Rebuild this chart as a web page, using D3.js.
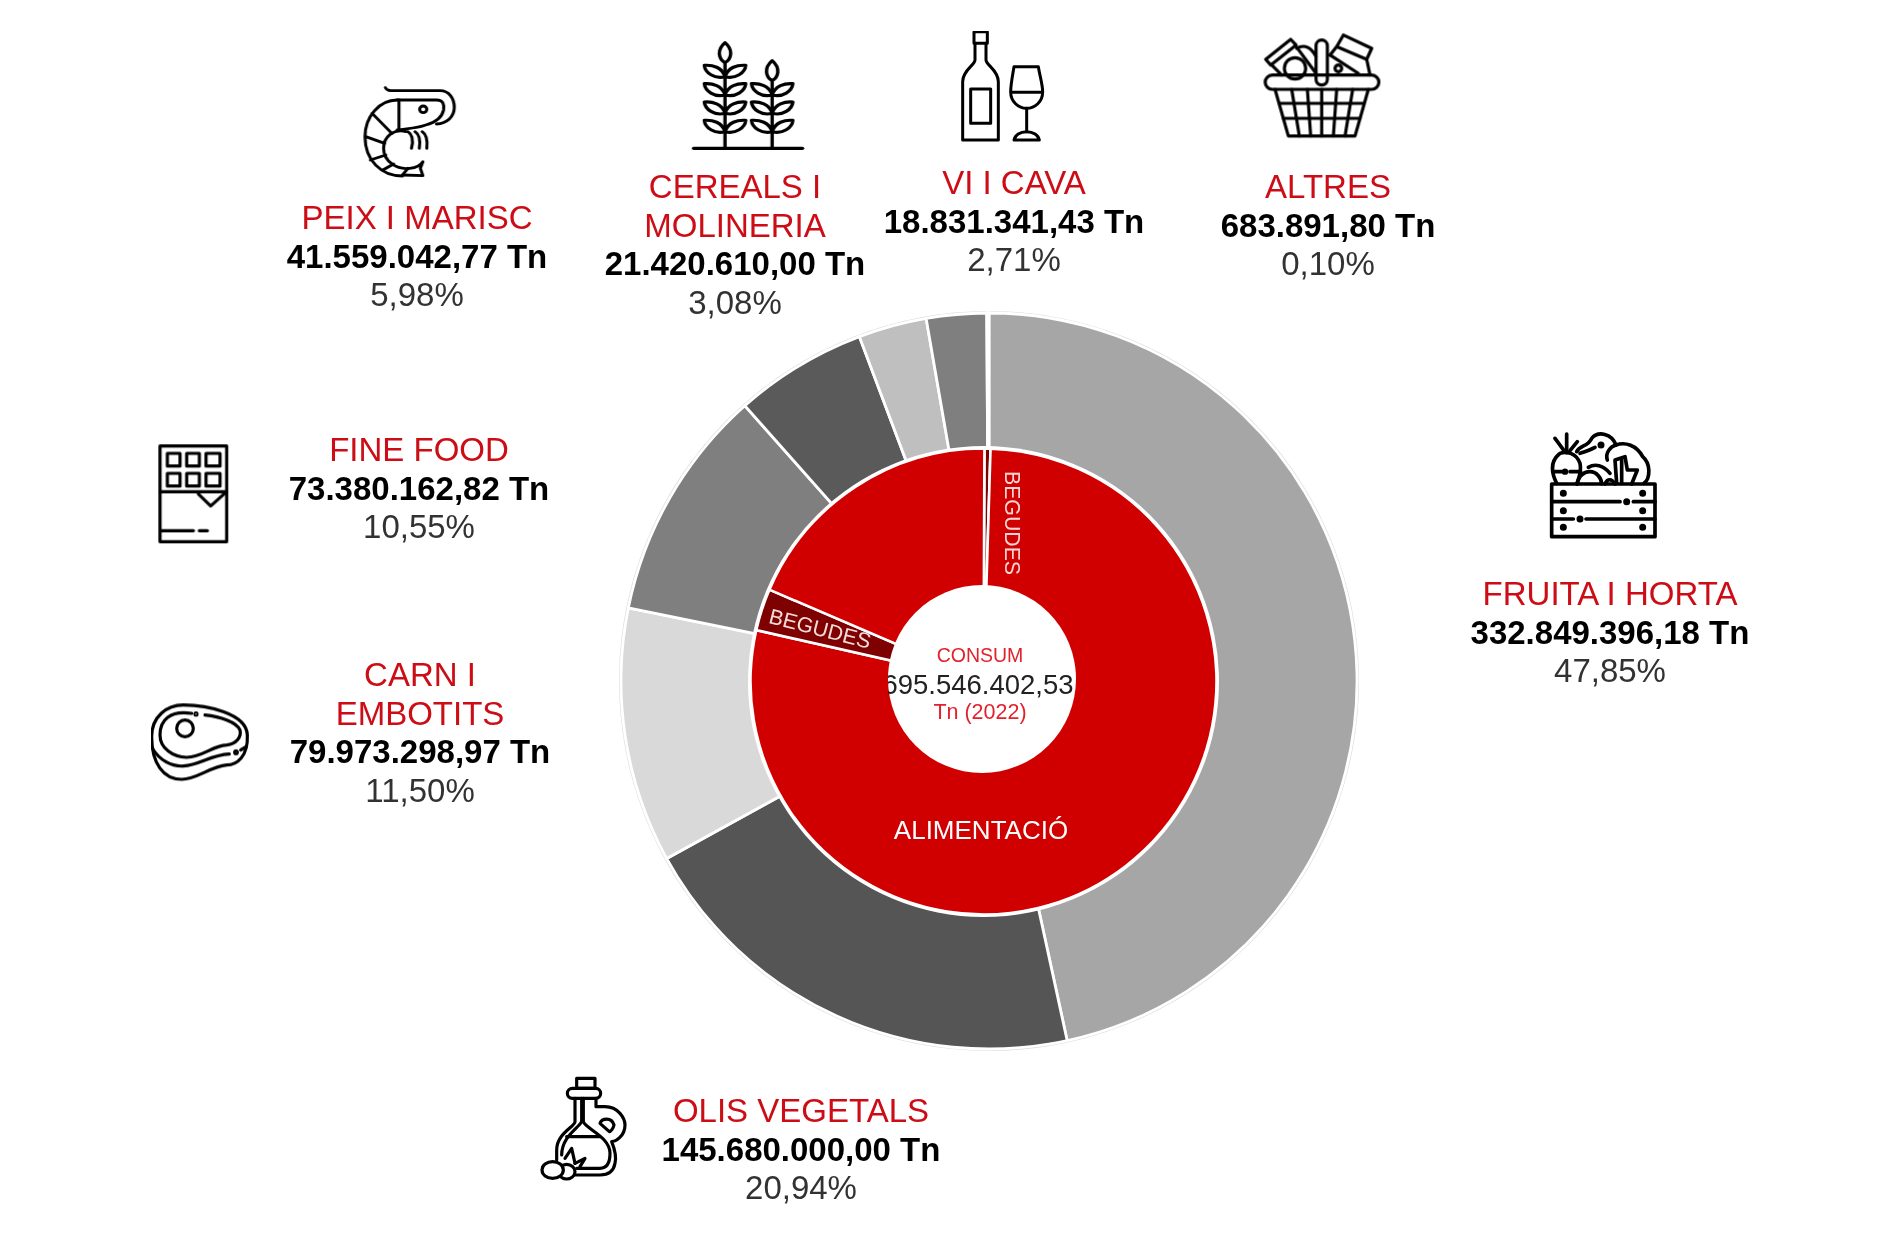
<!DOCTYPE html>
<html><head><meta charset="utf-8">
<script src="https://cdn.jsdelivr.net/npm/d3@7/dist/d3.min.js"></script>
<style>html,body{margin:0;background:#fff}svg{display:block;font-family:"Liberation Sans",Arial,sans-serif}</style>
</head><body><svg id="c" width="1900" height="1242"></svg>
<script>
// Data
const categories = ["FRUITA I HORTA","OLIS VEGETALS","CARN I EMBOTITS","FINE FOOD","PEIX I MARISC","CEREALS I MOLINERIA","VI I CAVA","ALTRES"];
const tonnes = [332849396.18,145680000,79973298.97,73380162.82,41559042.77,21420610,18831341.43,683891.80];
const valueLabels = ["332.849.396,18 Tn","145.680.000,00 Tn","79.973.298,97 Tn","73.380.162,82 Tn","41.559.042,77 Tn","21.420.610,00 Tn","18.831.341,43 Tn","683.891,80 Tn"];
const percentLabels = ["47,85%","20,94%","11,50%","10,55%","5,98%","3,08%","2,71%","0,10%"];
const outerColors = ["#a6a6a6","#545454","#d9d9d9","#7f7f7f","#5a5a5a","#bfbfbf","#7f7f7f","#d0d0d0"];
const innerNames = ["BEGUDES","ALIMENTACIÓ","BEGUDES","ALIMENTACIÓ"];
const innerTonnes = [2980000,557600000,20800000,132960000];
const innerColors = ["#7f0000","#d00000","#7f0000","#d00000"];
const centerLines = ["CONSUM","695.546.402,53","Tn (2022)"];

const svg = d3.select("#c");
const root = svg.append("g").attr("filter","url(#soft)");
const defs = svg.append("defs");
defs.append("filter").attr("id","soft").attr("x",0).attr("y",0).attr("width",1).attr("height",1)
  .attr("filterUnits","objectBoundingBox")
  .append("feGaussianBlur").attr("stdDeviation",0.7);
defs.append("clipPath").attr("id","numClip").append("rect").attr("x",888).attr("y",660).attr("width",188).attr("height",50);

const pie = d3.pie().sort(null).value(d=>d);

// Outer ring
const outerG = root.append("g").attr("transform","translate(989,681)");
outerG.append("circle").attr("r",369).attr("fill","none").attr("stroke","#dedede").attr("stroke-width",2);
const outerArc = d3.arc().innerRadius(200).outerRadius(368);
outerG.selectAll("path").data(pie(tonnes)).join("path")
  .attr("d",outerArc).attr("fill",(d,i)=>outerColors[i]).attr("stroke","#fff").attr("stroke-width",2.8);

// Inner ring
const innerG = root.append("g").attr("transform","translate(983.5,681.5)");
innerG.append("circle").attr("r",235.5).attr("fill","#fff");
const innerArc = d3.arc().innerRadius(0).outerRadius(233);
const innerPie = d3.pie().sort(null).value(d=>d).startAngle(0.004).endAngle(2*Math.PI+0.004);
innerG.selectAll("path").data(innerPie(innerTonnes)).join("path")
  .attr("d",innerArc).attr("fill",(d,i)=>innerColors[i]).attr("stroke","#fff").attr("stroke-width",2.6);
root.append("circle").attr("cx",982).attr("cy",679).attr("r",94).attr("fill","#fff");

// Ring and centre labels
const sliceLabel=(parent,t,x,y,r,s,f)=>parent.append("text").attr("transform",`translate(${x},${y}) rotate(${r})`)
  .attr("text-anchor","middle").attr("dominant-baseline","central").attr("font-size",s).attr("fill",f).text(t);
sliceLabel(root,innerNames[0],1012,523,90,21.3,"#f6d5d5");
sliceLabel(root,innerNames[2],820,629,14.5,21.3,"#f3dcdc");
sliceLabel(root,innerNames[1],981,830,0,26,"#fff");
sliceLabel(root,centerLines[0],980,655,0,19.5,"#e2222c");
sliceLabel(root.append("g").attr("clip-path","url(#numClip)"),centerLines[1],978,684,0,27.5,"#222");
sliceLabel(root,centerLines[2],980,712,0,21.5,"#e2222c");

// Category labels
const labelX=[1610,801,420,419,417,735,1014,1328];
const labelY=[594,1111,675,450,218,187,183,187];
const titleLines=[["FRUITA I HORTA"],["OLIS VEGETALS"],["CARN I","EMBOTITS"],["FINE FOOD"],["PEIX I MARISC"],["CEREALS I","MOLINERIA"],["VI I CAVA"],["ALTRES"]];
const lineStep=38.7;
categories.forEach((c,i)=>{
  const g=root.append("g").attr("text-anchor","middle").attr("font-size",33);
  let y=labelY[i]-0.6;
  const put=(t,f,w)=>{g.append("text").attr("x",labelX[i]).attr("y",y).attr("dominant-baseline","central").attr("fill",f).attr("font-weight",w).text(t);y+=lineStep;};
  titleLines[i].forEach(t=>put(t,"#cc0a14","normal"));
  put(valueLabels[i],"#000","bold");
  put(percentLabels[i],"#333","normal");
});

// Pictograms, drawn in the pixel frame of each icon crop
function icon(ox,oy,kx,ky,sw,paths,circles){
  const g=root.append("g").attr("transform",`translate(${ox},${oy}) scale(${kx},${ky})`)
    .attr("fill","none").attr("stroke","#000").attr("stroke-width",sw).attr("stroke-linecap","round").attr("stroke-linejoin","round");
  paths.forEach(p=>g.append("path").attr("d",p));
  (circles||[]).forEach(c=>g.append("circle").attr("cx",c[0]).attr("cy",c[1]).attr("r",c[2]).attr("fill",c[3]||"none"));
}
// shrimp
icon(340,20,1/2.8,1/3,8.5,[
 "M127 203C130 212 140 212 150 212L280 212C305 212 320 235 320 262C320 290 300 310 270 312",
 "M160 240L270 240C290 240 292 255 290 270C285 295 265 308 240 315C215 325 190 325 160 330",
 "M160 240C110 240 70 290 70 350C70 420 115 468 175 468",
 "M165 240L165 330",
 "M185 335C150 325 122 350 122 385C122 425 160 450 195 445C210 443 225 437 232 425L225 445L232 467L175 465",
 "M90 280L145 340","M72 350L125 370","M85 420L128 405","M120 450L150 432","M175 465L190 445",
 "M190 335C205 345 205 365 200 385","M210 335C225 345 225 365 222 385","M230 335C245 345 245 365 243 385"
],[[233,268,10]]);
// wheat
const leaf=(x,y,s)=>`M${x} ${y+20}C${x+s*8} ${y-8} ${x+s*35} ${y-16} ${x+s*58} ${y-14}C${x+s*56} ${y+8} ${x+s*30} ${y+28} ${x} ${y+20}Z`;
const bud=(x,y)=>`M${x} ${y}C${x-24} ${y+22} ${x-18} ${y+50} ${x} ${y+60}C${x+18} ${y+50} ${x+24} ${y+22} ${x} ${y}Z`;
const wheatPaths=["M990 385H1295","M1078 128V385","M1210 180V385",bud(1078,68),bud(1210,122)];
[150,205,260,315].forEach(y=>{wheatPaths.push(leaf(1078,y,1),leaf(1078,y,-1));});
[205,260,315].forEach(y=>{wheatPaths.push(leaf(1210,y,1),leaf(1210,y,-1));});
icon(340,20,1/2.8,1/3,9.5,wheatPaths);
// bottle and glass
icon(900,20,1/3,1/3,9,[
 "M222 35H262V70H222Z",
 "M225 70V120C225 135 188 150 188 185V360H295V185C295 150 258 135 258 120V70",
 "M212 207H272V310H212Z",
 "M342 140H415C420 170 428 195 428 215C428 245 405 265 380 265C355 265 332 245 332 215C332 195 337 170 342 140Z",
 "M335 217H425","M380 265V335","M342 360C345 345 360 335 380 335C400 335 415 345 418 360Z"
]);
// basket
icon(900,20,1/3,1/3,9.5,[
 "M1117 165H1415A21 21 0 0 1 1415 208H1117A21 21 0 0 1 1117 165Z",
 "M1248 77A17 17 0 0 1 1282 77V178A17 17 0 0 1 1248 178Z",
 "M1125 208L1165 348H1365L1405 208",
 "M1138 250H1392","M1150 295H1380",
 "M1175 208L1198 348","M1222 208L1232 348","M1265 208V348","M1310 208L1300 348","M1358 208L1335 348",
 "M1097 118L1172 58L1188 75L1112 135Z","M1115 135L1145 165","M1185 75L1248 160",
 "M1190 85C1215 70 1235 85 1248 110",
 "M1330 45L1415 85L1400 118L1310 80Z","M1290 105L1310 80","M1290 105L1375 160","M1400 118L1410 165"
],[[1185,145,32],[1315,145,10]]);
// chocolate
icon(130,420,1/3,1/3,9.5,[
 "M90 78H290V365H90Z","M90 215H290",
 "M112 100H150V138H112Z","M170 100H208V138H170Z","M228 100H270V138H228Z",
 "M112 160H150V198H112Z","M170 160H208V198H170Z","M228 160H270V198H228Z",
 "M205 222L242 258L282 222","M95 332H190","M208 332H232"
]);
// steak
icon(130,420,1/3,1/3,9.5,[
 "M65 950C65 890 110 855 160 855C230 855 350 880 352 945C355 1010 320 1035 290 1035C240 1040 200 1078 155 1078C100 1078 65 1030 65 950Z",
 "M185 880C120 870 90 900 90 945C90 985 130 1012 170 1012C220 1010 245 978 290 975C320 972 335 950 330 930C320 905 270 890 225 885",
 "M67 985C90 1022 125 1040 160 1038C210 1035 240 1005 298 1002","M332 990L348 980"
],[[165,925,25],[198,882,3],[318,997,4]]);
// crate
icon(1520,410,1/3,1/3,11,[
 "M95 222H405V380H95Z","M95 275H300","M340 275H405","M95 327H160","M198 327H405",
 "M110 220C90 180 95 150 120 130C140 122 170 130 180 160C185 185 175 210 170 222",
 "M140 128V72","M132 122L105 85","M150 122L172 95","M105 185H125","M150 185H182",
 "M172 222C175 195 195 185 210 185C230 185 245 205 245 222",
 "M170 125C180 105 205 110 215 85C235 62 275 70 288 105C315 95 350 105 368 140C392 160 392 205 372 220",
 "M180 130C195 125 210 120 225 112","M262 150C255 130 270 110 288 105",
 "M205 172C225 160 250 165 270 190","M255 222C262 205 275 205 285 222",
 "M290 220L285 150L315 140L322 180L352 180L335 222","M305 220V150"
],[[130,250,5,"#000"],[368,250,5,"#000"],[130,302,5,"#000"],[368,302,5,"#000"],[130,352,5,"#000"],[368,352,5,"#000"],[320,275,5,"#000"],[180,327,5,"#000"],[243,105,5,"#000"],[135,185,4,"#000"]]);
// oil cruet
icon(520,1060,1/3,1/3,9.5,[
 "M170 55H225V85H170Z",
 "M157 85H227A15 15 0 0 1 227 115H157A15 15 0 0 1 157 85Z",
 "M165 115V185C165 200 110 220 110 270V300",
 "M228 115V140H255C295 140 315 175 315 195C315 230 285 245 275 245C285 270 290 290 285 310C280 340 260 345 240 345H150",
 "M190 115V185C195 205 270 230 270 280C270 310 260 325 240 325H170",
 "M185 115V185C175 205 125 230 125 285",
 "M140 230H240",
 "M240 190C245 175 275 170 282 195C280 205 272 215 268 215Z",
 "M135 295L155 265L165 310","M165 310L195 295L180 320"
]);
root.append("g").attr("transform","translate(520,1060) scale(0.3333)").attr("fill","#fff").attr("stroke","#000").attr("stroke-width",9.5)
 .call(g=>{g.append("ellipse").attr("cx",140).attr("cy",335).attr("rx",25).attr("ry",22);
           g.append("ellipse").attr("cx",98).attr("cy",330).attr("rx",32).attr("ry",25);});
</script></body></html>
